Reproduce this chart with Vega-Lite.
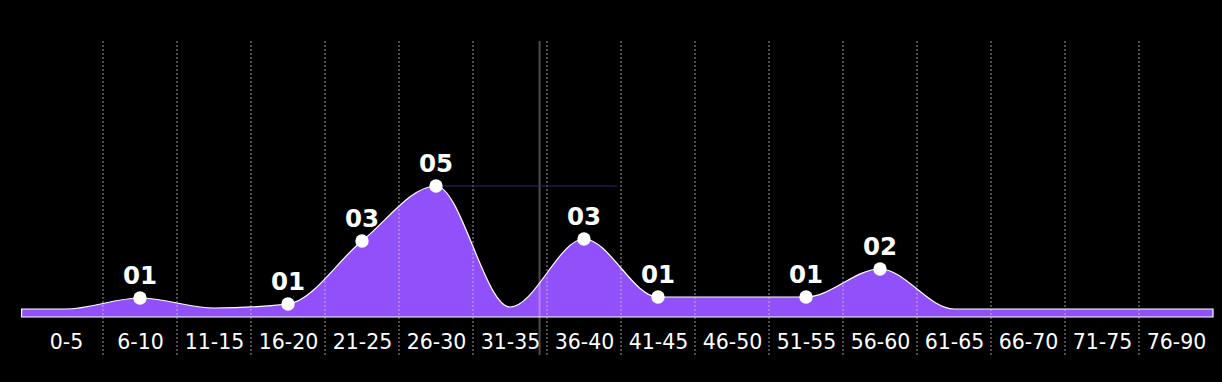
{
  "$schema": "https://vega.github.io/schema/vega-lite/v6.json",
  "width": 1192,
  "height": 314,
  "autosize": "none",
  "padding": {"left": 21, "top": 41, "right": 9, "bottom": 27},
  "background": "#000000",
  "config": {
    "view": {"stroke": null},
    "font": "DejaVu Sans",
    "axisX": {"grid": false, "domain": false, "ticks": false, "tickSize": 0, "labelPadding": -13, "labelBaseline": "middle", "labelColor": "#ffffff", "labelFontSize": 20.5, "labelFont": "DejaVu Sans", "labelFlush": false, "labelOverlap": false, "title": null}
  },
  "datasets": {
    "ages": [
      {"i": -0.6, "group": null, "level": 0.8, "label": null},
      {"i": 0, "group": "0-5", "level": 0.8, "label": null},
      {"i": 1, "group": "6-10", "level": 1.9, "label": "01"},
      {"i": 2, "group": "11-15", "level": 0.9, "label": null},
      {"i": 3, "group": "16-20", "level": 1.3, "label": "01"},
      {"i": 4, "group": "21-25", "level": 7.6, "label": "03"},
      {"i": 5, "group": "26-30", "level": 13.1, "label": "05"},
      {"i": 6, "group": "31-35", "level": 1.0, "label": null},
      {"i": 7, "group": "36-40", "level": 7.8, "label": "03"},
      {"i": 8, "group": "41-45", "level": 2.0, "label": "01"},
      {"i": 9, "group": "46-50", "level": 2.0, "label": null},
      {"i": 10, "group": "51-55", "level": 2.0, "label": "01"},
      {"i": 11, "group": "56-60", "level": 4.8, "label": "02"},
      {"i": 12, "group": "61-65", "level": 0.8, "label": null},
      {"i": 13, "group": "66-70", "level": 0.8, "label": null},
      {"i": 14, "group": "71-75", "level": 0.8, "label": null},
      {"i": 15, "group": "76-90", "level": 0.8, "label": null},
      {"i": 15.5, "group": null, "level": 0.8, "label": null}
    ],
    "bounds": [
      {"b": 0.5}, {"b": 1.5}, {"b": 2.5}, {"b": 3.5}, {"b": 4.5},
      {"b": 5.5}, {"b": 6.5}, {"b": 7.5}, {"b": 8.5}, {"b": 9.5},
      {"b": 10.5}, {"b": 11.5}, {"b": 12.5}, {"b": 13.5}, {"b": 14.5}
    ],
    "cursor": [{"cx": 6.4}],
    "peakline": [{"x1": 5, "x2": 7.45, "lvl": 13.1}]
  },
  "layer": [
    {
      "data": {"name": "ages"},
      "mark": {"type": "area", "interpolate": "monotone", "color": "#9150FA", "stroke": "#ffffff", "strokeWidth": 1.2, "fillOpacity": 1},
      "encoding": {
        "x": {"field": "i", "type": "quantitative", "scale": {"domain": [-0.608, 15.5], "nice": false, "zero": false},
          "axis": {"values": [0,1,2,3,4,5,6,7,8,9,10,11,12,13,14,15],
            "labelExpr": "['0-5','6-10','11-15','16-20','21-25','26-30','31-35','36-40','41-45','46-50','51-55','56-60','61-65','66-70','71-75','76-90'][datum.value]"}},
        "y": {"field": "level", "type": "quantitative", "scale": {"domain": [-3.8, 27.6], "nice": false, "zero": false}, "axis": null},
        "y2": {"datum": 0}
      }
    },
    {
      "data": {"name": "bounds"},
      "mark": {"type": "rule", "stroke": "#d0d0d0", "strokeWidth": 1, "strokeDash": [2, 2], "opacity": 0.75},
      "encoding": {
        "x": {"field": "b", "type": "quantitative", "title": null}
      }
    },
    {
      "data": {"name": "cursor"},
      "mark": {"type": "rule", "stroke": "#ffffff", "strokeWidth": 2, "opacity": 0.3},
      "encoding": {
        "x": {"field": "cx", "type": "quantitative", "title": null}
      }
    },
    {
      "data": {"name": "peakline"},
      "mark": {"type": "rule", "stroke": "#3b1f75", "strokeWidth": 1},
      "encoding": {
        "x": {"field": "x1", "type": "quantitative", "title": null},
        "x2": {"field": "x2"},
        "y": {"field": "lvl", "type": "quantitative", "axis": null}
      }
    },
    {
      "data": {"name": "ages"},
      "transform": [{"filter": "datum.label != null"}],
      "mark": {"type": "point", "filled": true, "color": "#ffffff", "opacity": 1, "size": 180},
      "encoding": {
        "x": {"field": "i", "type": "quantitative", "title": null},
        "y": {"field": "level", "type": "quantitative", "axis": null}
      }
    },
    {
      "data": {"name": "ages"},
      "transform": [{"filter": "datum.label != null"}],
      "mark": {"type": "text", "color": "#ffffff", "font": "DejaVu Sans", "fontWeight": "bold", "fontSize": 24.5, "baseline": "alphabetic", "dy": -14},
      "encoding": {
        "x": {"field": "i", "type": "quantitative", "title": null},
        "y": {"field": "level", "type": "quantitative", "axis": null},
        "text": {"field": "label", "type": "nominal"}
      }
    }
  ]
}
